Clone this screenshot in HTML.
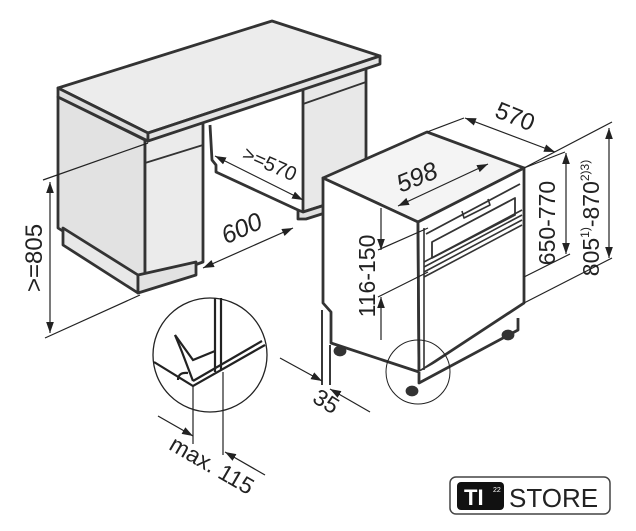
<!DOCTYPE html>
<html><head><style>
html,body{margin:0;padding:0;background:#fff;width:636px;height:531px;overflow:hidden}
svg{display:block}
text{font-family:"Liberation Sans",Arial,sans-serif;fill:#222}
</style></head><body>
<svg width="636" height="531" viewBox="0 0 636 531" xmlns="http://www.w3.org/2000/svg">
<defs>
<marker id="a" viewBox="0 0 10 10" refX="10" refY="5" markerWidth="11" markerHeight="11" orient="auto-start-reverse" markerUnits="userSpaceOnUse"><path d="M0,1.5 L10,5 L0,8.5z" fill="#222"/></marker>
</defs>
<g stroke="#333" stroke-width="2.8" stroke-linejoin="round">
<polygon points="303,86 366,64 366,192 303,212" fill="#e8e8e8"/>
<polygon points="303,212 366,192 366,200 306,219 298,219 298,210" fill="#e0e0e0"/>
<line x1="303" y1="104" x2="366" y2="82" stroke-width="1.8"/>
<polyline points="210,125 212,160 216,165 216,172 298,210" fill="none"/>
<polygon points="58,97 145,140 145,283 58,228" fill="#e2e2e2"/>
<polygon points="145,140 203,122 203,262 145,283" fill="#ebebeb"/>
<polygon points="63,228 138,275 138,293 63,245" fill="#e8e8e8"/>
<polygon points="138,275 196,262 196,275 138,293" fill="#e2e2e2"/>
<line x1="145" y1="163" x2="203" y2="145" stroke-width="1.8"/>
<polygon points="58,88 272,21 380,56 148,133" fill="#ececec"/>
<polygon points="58,88 148,133 148,141 58,97" fill="#dedede"/>
<polygon points="148,133 380,56 380,64 148,141" fill="#e4e4e4"/>
<polygon points="323,178 427,132 524,168 418,222" fill="#f4f4f4"/>
<polygon points="323,178 418,222 419,372 331,343 331,312 323,303" fill="#fff"/>
<polygon points="418,222 524,168 524,303 419,372" fill="#fff"/>
<polyline points="419,372 419,383 518,330 518,318" fill="#fff"/>
<line x1="426" y1="234" x2="520" y2="184" stroke-width="1.8"/>
<polygon points="432,242 515,198 515,215 432,258" fill="none" stroke-width="1.8"/>
<line x1="424" y1="262" x2="522" y2="210" stroke-width="1.6"/>
<line x1="424" y1="267" x2="522" y2="215" stroke-width="1.6"/>
<line x1="424" y1="272" x2="522" y2="220" stroke-width="1.6"/>
<line x1="424" y1="277" x2="522" y2="225" stroke-width="1.6"/>
<polyline points="462,211 464,218 490,205 488,199" fill="none" stroke-width="1.6"/>
<line x1="424" y1="228" x2="424" y2="370" stroke-width="1.6"/>
<ellipse cx="340" cy="351" rx="5" ry="4" fill="#333"/>
<ellipse cx="412" cy="391" rx="5" ry="4" fill="#333"/>
<ellipse cx="508" cy="335" rx="5" ry="4" fill="#333"/>
</g>
<g stroke="#222" stroke-width="1.2" fill="none">
<line x1="43" y1="180" x2="148" y2="143"/>
<line x1="45" y1="338" x2="140" y2="295"/>
<line x1="50" y1="182" x2="50" y2="333" marker-start="url(#a)" marker-end="url(#a)"/>
<line x1="203" y1="268" x2="293" y2="228" marker-start="url(#a)" marker-end="url(#a)"/>
<line x1="215" y1="156" x2="303" y2="200" marker-start="url(#a)" marker-end="url(#a)"/>
<line x1="427" y1="132" x2="464" y2="118"/>
<line x1="524" y1="168" x2="565" y2="152"/>
<line x1="465" y1="118" x2="555" y2="152" marker-start="url(#a)" marker-end="url(#a)"/>
<line x1="398" y1="206" x2="488" y2="164" marker-start="url(#a)" marker-end="url(#a)"/>
<line x1="524" y1="168" x2="612" y2="122"/>
<line x1="524" y1="303" x2="612" y2="258"/>
<line x1="524" y1="277" x2="570" y2="254"/>
<line x1="566" y1="153" x2="566" y2="254" marker-start="url(#a)" marker-end="url(#a)"/>
<line x1="609" y1="128" x2="609" y2="258" marker-start="url(#a)" marker-end="url(#a)"/>
<line x1="378" y1="250" x2="428" y2="228"/>
<line x1="378" y1="297" x2="428" y2="272"/>
<line x1="381" y1="208" x2="381" y2="250" marker-end="url(#a)"/>
<line x1="381" y1="340" x2="381" y2="297" marker-end="url(#a)"/>
<line x1="322" y1="310" x2="322" y2="385" stroke-width="1.8"/>
<line x1="330" y1="345" x2="330" y2="385" stroke-width="1.8"/>
<line x1="280" y1="358" x2="322" y2="381" marker-end="url(#a)"/>
<line x1="370" y1="412" x2="330" y2="389" marker-end="url(#a)"/>
<circle cx="418" cy="372" r="32" stroke-width="1"/>
<circle cx="210" cy="355" r="57" stroke-width="1.3"/>
<line x1="193" y1="386" x2="193" y2="444"/>
<line x1="223" y1="372" x2="223" y2="455"/>
<line x1="158" y1="416" x2="193" y2="436" marker-end="url(#a)"/>
<line x1="265" y1="475" x2="225" y2="452" marker-end="url(#a)"/>
</g>
<g stroke="#222" stroke-width="2.2" fill="none">
<polyline points="154,362 193,386 265,345"/>
<polyline points="193,381 262,341"/>
<line x1="215" y1="298" x2="215" y2="372"/>
<line x1="221" y1="298" x2="221" y2="370"/>
<polyline points="175,335 193,360 215,351"/>
<polyline points="175,335 182,352 193,381"/>
<path d="M178,380 q0,-8 10,-7" />
</g>
<text transform="translate(42,258) rotate(-90)" font-size="24" text-anchor="middle">&gt;=805</text>
<text transform="translate(245,236) rotate(-24)" font-size="25" text-anchor="middle" font-style="italic">600</text>
<text transform="translate(267,170) rotate(24)" font-size="20" text-anchor="middle">&gt;=570</text>
<text transform="translate(420,185) rotate(-22)" font-size="25" text-anchor="middle" font-style="italic">598</text>
<text transform="translate(512,124) rotate(22)" font-size="24" text-anchor="middle">570</text>
<text transform="translate(375,276) rotate(-90)" font-size="23" text-anchor="middle">116-150</text>
<text transform="translate(555,223) rotate(-90)" font-size="23" text-anchor="middle">650-770</text>
<text transform="translate(599,218) rotate(-90)" font-size="23" text-anchor="middle">805<tspan font-size="12" dy="-10">1)</tspan><tspan dy="10">-870</tspan><tspan font-size="12" dy="-10">2)3)</tspan></text>
<text transform="translate(322,408) rotate(32)" font-size="23" text-anchor="middle">35</text>
<text transform="translate(208,472) rotate(30)" font-size="23" text-anchor="middle">max. 115</text>
<rect x="450" y="477" width="160" height="37" rx="6" fill="#fff" stroke="#444" stroke-width="1.5"/>
<rect x="457" y="482" width="47" height="28" rx="4" fill="#111"/>
<text x="464" y="505" font-size="22" font-weight="bold" style="fill:#fff">TI</text>
<text x="493" y="492" font-size="7" style="fill:#fff">22</text>
<text x="509" y="507" font-size="26" style="fill:#222">STORE</text>
</svg>
</body></html>
